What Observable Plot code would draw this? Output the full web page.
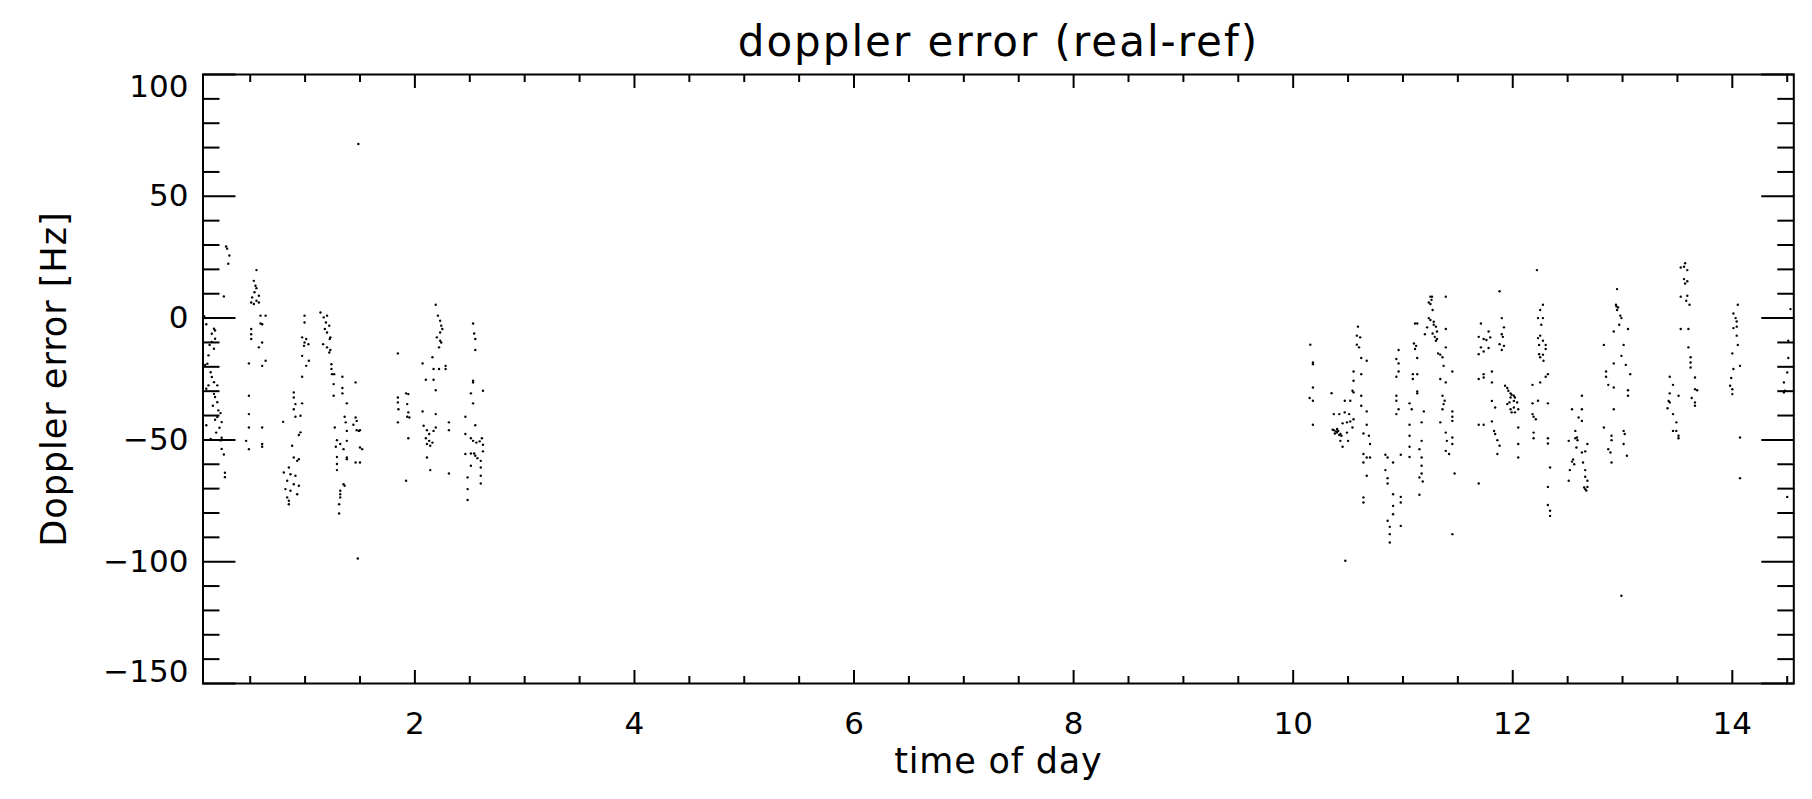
<!DOCTYPE html>
<html><head><meta charset="utf-8">
<script src="https://cdn.jsdelivr.net/npm/d3@7"></script>
<script src="https://cdn.jsdelivr.net/npm/@observablehq/plot@0.6"></script>
<style>html,body{margin:0;padding:0;background:#fff;} svg{display:block}</style>
</head><body><div id="chart"></div>
<script>
// time of day, doppler error [Hz] — one array per satellite pass
const passA = [[0.28,29.4],[0.29,28.5],[0.31,25.7],[0.30,22.3],[0.26,8.9],[0.08,0.8],[0.09,0.0],[0.17,-4.4],[0.18,-5.1],[0.15,-6.4],[0.18,-8.5],[0.15,-9.8],[0.17,-12.6],[0.12,-15.3],[0.11,-18.7],[0.09,-19.2],[0.14,-22.2],[0.15,-24.2],[0.17,-26.3],[0.20,-27.6],[0.12,-27.6],[0.17,-31.1],[0.18,-32.4],[0.20,-34.5],[0.21,-37.9],[0.23,-39.0],[0.20,-40.6],[0.24,-42.7],[0.18,-41.7],[0.14,-49.6],[0.24,-49.1],[0.23,-50.2],[0.24,-53.7],[0.27,-63.5],[0.27,-65.3],[0.10,-2.5],[0.13,-11],[0.10,-29],[0.16,-36],[0.22,-45],[0.19,-47],[0.10,-44],[0.26,-56]];
const passB = [[0.557,19.7],[0.533,15.3],[0.548,13.3],[0.557,12.3],[0.539,10.6],[0.518,8.5],[0.509,6.4],[0.533,5.8],[0.557,7.1],[0.579,9.2],[0.579,6.4],[0.594,1.0],[0.64,1.0],[0.594,-2.2],[0.609,-2.5],[0.509,-4.5],[0.509,-6.6],[0.509,-8.6],[0.609,-10.0],[0.579,-12.0],[0.488,-18.6],[0.609,-19.6],[0.64,-17.5],[0.488,-31.9],[0.488,-39.4],[0.488,-44.9],[0.609,-44.9],[0.463,-50.4],[0.488,-53.8],[0.609,-51.7],[0.609,-52.8]];
const passC = [[0.995,1.0],[0.995,-1.8],[0.973,-7.9],[1.01,-8.6],[0.995,-10.0],[1.03,-10.7],[0.99,-11.4],[0.973,-15.5],[1.034,-17.5],[1.01,-19.6],[0.973,-24.1],[0.897,-30.5],[0.897,-32.6],[0.912,-35.3],[0.973,-35.0],[0.897,-37.4],[0.958,-40.1],[0.912,-40.5],[0.80,-42.6],[0.958,-46.9],[0.943,-48.0],[0.882,-52.4],[0.897,-57.2],[0.928,-58.6],[0.943,-57.9],[0.806,-63.4],[0.852,-61.3],[0.867,-64.1],[0.837,-66.8],[0.912,-64.7],[0.897,-68.2],[0.943,-68.8],[0.821,-70.2],[0.867,-70.9],[0.928,-72.3],[0.837,-73.6],[0.852,-75.0],[0.852,-76.4]];
const passD = [[1.14,2.3],[1.17,0.3],[1.20,1.0],[1.19,-1.8],[1.22,-3.1],[1.18,-4.5],[1.20,-5.9],[1.23,-7.9],[1.225,-8.6],[1.164,-10.7],[1.20,-12.0],[1.23,-13.1],[1.22,-14.1],[1.24,-18.9],[1.24,-20.9],[1.245,-23.0],[1.265,-23.0],[1.34,-24.1],[1.26,-27.1],[1.34,-28.7],[1.34,-30.9],[1.26,-31.9],[1.46,-26.4],[1.38,-35.0],[1.36,-40.5],[1.46,-40.8],[1.47,-42.2],[1.37,-42.8],[1.44,-43.8],[1.50,-46.0],[1.49,-46.3],[1.38,-46.3],[1.47,-46.0],[1.27,-44.9],[1.29,-50.1],[1.28,-52.8],[1.32,-51.7],[1.35,-53.8],[1.38,-50.4],[1.50,-53.1],[1.52,-53.8],[1.38,-57.2],[1.38,-57.9],[1.29,-57.0],[1.29,-59.9],[1.29,-62.4],[1.46,-59.3],[1.50,-59.3],[1.35,-68.2],[1.36,-68.8],[1.32,-70.9],[1.32,-72.3],[1.32,-73.6],[1.31,-76.4],[1.31,-80.2],[1.48,-98.7],[1.485,71.5]];
const passE = [[1.845,-14.5],[1.845,-32.6],[1.845,-34.6],[1.85,-37.4],[1.845,-42.8],[1.92,-30.9],[1.94,-31.2],[1.93,-35.3],[1.94,-38.7],[1.93,-40.5],[1.95,-40.8],[1.94,-49.3],[1.92,-66.8]];
const passF = [[2.19,5.5],[2.21,1.0],[2.23,-1.1],[2.24,-3.1],[2.25,-4.5],[2.23,-5.9],[2.20,-7.9],[2.23,-9.3],[2.22,-12.0],[2.24,-10.0],[2.07,-18.6],[2.16,-16.1],[2.10,-25.3],[2.17,-25.3],[2.17,-20.9],[2.22,-20.9],[2.28,-20.9],[2.28,-19.6],[2.19,-29.6],[2.07,-38.3],[2.19,-39.4],[2.31,-42.8],[2.31,-46.0],[2.08,-44.2],[2.11,-46.0],[2.13,-47.6],[2.17,-46.3],[2.19,-44.9],[2.10,-49.3],[2.13,-50.4],[2.11,-51.7],[2.16,-51.1],[2.14,-52.4],[2.11,-57.2],[2.14,-62.4],[2.31,-63.8]];
const passG = [[2.53,-2.2],[2.54,-6.3],[2.55,-8.6],[2.55,-13.1],[2.53,-25.7],[2.53,-26.4],[2.51,-30.9],[2.62,-29.8],[2.53,-35.0],[2.46,-40.5],[2.55,-44.0],[2.46,-47.6],[2.51,-49.3],[2.53,-50.4],[2.61,-49.3],[2.56,-51.1],[2.59,-50.6],[2.62,-52.0],[2.46,-55.8],[2.51,-55.6],[2.54,-55.6],[2.55,-56.5],[2.57,-57.5],[2.62,-54.7],[2.60,-58.6],[2.60,-61.3],[2.51,-60.6],[2.60,-64.7],[2.60,-67.9],[2.48,-65.4],[2.48,-70.2],[2.48,-74.7]];
const passH = [[10.156,-10.9],[10.18,-18.2],[10.18,-18.9],[10.18,-28.5],[10.15,-32.8],[10.18,-33.9],[10.18,-43.8]];
const passI = [[10.35,-30.8],[10.47,-33.9],[10.52,-33.9],[10.37,-39.4],[10.42,-39.4],[10.47,-38.7],[10.51,-39.4],[10.55,-41.5],[10.52,-42.4],[10.49,-42.8],[10.45,-43.2],[10.54,-44.9],[10.37,-46.0],[10.40,-47.0],[10.43,-47.6],[10.38,-47.4],[10.41,-46.3],[10.44,-48.3],[10.49,-47.0],[10.43,-50.4],[10.45,-52.8],[10.50,-50.4],[10.475,-99.6],[10.39,-46.5],[10.40,-45.5],[10.42,-48.0],[10.36,-45.8]];
const passJ = [[10.59,-3.5],[10.58,-7.2],[10.61,-7.9],[10.58,-10.9],[10.60,-12.0],[10.62,-16.4],[10.67,-17.5],[10.55,-21.9],[10.62,-23.0],[10.55,-25.7],[10.54,-29.8],[10.55,-30.5],[10.62,-31.9],[10.62,-36.0],[10.67,-38.3],[10.67,-43.8],[10.64,-47.4],[10.69,-48.3],[10.70,-51.7],[10.64,-55.8],[10.67,-57.2],[10.70,-57.2],[10.64,-59.3],[10.67,-64.7],[10.64,-73.6],[10.64,-75.7]];
const passK = [[10.84,-56.1],[10.86,-57.2],[10.91,-59.3],[10.98,-56.1],[10.84,-62.4],[10.86,-65.7],[10.86,-67.9],[10.91,-72.3],[10.91,-77.1],[10.91,-80.5],[10.98,-73.4],[10.98,-75.7],[10.86,-83.2],[10.88,-85.7],[10.88,-88.7],[10.88,-92.1],[10.98,-85.3]];
const passL = [[10.96,-13.1],[10.94,-16.8],[10.96,-18.6],[10.96,-21.9],[10.94,-24.1],[10.94,-31.9],[10.94,-33.9],[10.96,-37.4],[10.94,-39.4]];
const passM = [[11.06,-35.0],[11.08,-37.4],[11.13,-30.1],[11.13,-30.9],[11.09,-23.0],[11.13,-23.0],[11.09,-25.0],[11.10,-10.4],[11.11,-12.7],[11.12,-11.4],[11.11,-2.2],[11.13,-2.2],[11.13,-16.4],[11.06,-43.8],[11.06,-48.3],[11.06,-52.8],[11.06,-57.0],[11.17,-42.8],[11.17,-50.4],[11.15,-53.8],[11.17,-57.2],[11.17,-60.6],[11.17,-63.8],[11.15,-65.4],[11.18,-67.1],[11.15,-72.5],[11.19,-38.3],[11.20,-6.6]];
const passN = [[11.25,8.8],[11.265,8.8],[11.235,6.4],[11.25,5.8],[11.27,3.3],[11.235,0.0],[11.25,-0.8],[11.22,-3.8],[11.28,-2.7],[11.30,-3.5],[11.27,-6.3],[11.29,-7.7],[11.31,-8.6],[11.30,-9.3],[11.32,-14.5],[11.34,-15.0],[11.36,-16.1],[11.37,-19.6],[11.39,8.8],[11.39,-4.5],[11.39,-12.0],[11.34,-25.0],[11.39,-26.4],[11.45,-21.9],[11.36,-31.9],[11.38,-33.9],[11.37,-35.3],[11.36,-37.4],[11.45,-38.3],[11.45,-40.5],[11.45,-42.2],[11.34,-42.8],[11.39,-47.0],[11.45,-49.0],[11.40,-50.4],[11.45,-51.7],[11.39,-54.5],[11.42,-55.8],[11.47,-63.8],[11.45,-88.7],[11.26,7.5],[11.28,-1.5],[11.31,-5.5]];
const passO = [[11.71,-2.2],[11.78,-5.5],[11.69,-7.7],[11.735,-8.6],[11.795,-7.9],[11.76,-9.0],[11.71,-12.0],[11.69,-14.8],[11.735,-13.7],[11.78,-12.3],[11.735,-23.0],[11.69,-25.0],[11.81,-21.9],[11.81,-26.4],[11.735,-24.4],[11.90,0.0],[11.92,-3.8],[11.90,-6.6],[11.91,-7.7],[11.88,-10.7],[11.92,-11.4],[11.90,-13.1],[11.88,11.0],[11.81,-34.0],[11.84,-36.7],[11.81,-42.4],[11.69,-43.8],[11.735,-43.8],[11.83,-46.3],[11.84,-47.6],[11.86,-50.1],[11.88,-52.4],[11.86,-55.8],[11.69,-67.9],[11.93,-27.8],[11.95,-28.7],[11.96,-29.8],[11.98,-30.9],[11.99,-31.5],[12.01,-31.9],[12.02,-32.6],[11.98,-32.6],[12.01,-34.0],[12.04,-34.6],[12.05,-37.4],[12.01,-36.7],[11.98,-37.4],[11.99,-38.7],[12.02,-38.7],[11.95,-35.3],[11.97,-34.6],[12.05,-44.9],[12.05,-51.7],[12.05,-57.2]];
const passP = [[12.22,19.7],[12.275,5.5],[12.25,3.3],[12.23,0.0],[12.275,0.0],[12.26,-2.7],[12.25,-7.2],[12.23,-8.2],[12.275,-9.3],[12.24,-11.0],[12.30,-11.0],[12.30,-12.7],[12.24,-14.8],[12.275,-15.0],[12.28,-17.5],[12.25,-16.1],[12.32,-23.0],[12.30,-24.1],[12.25,-26.4],[12.18,-27.4],[12.18,-35.0],[12.23,-33.9],[12.32,-35.0],[12.18,-39.4],[12.19,-40.5],[12.21,-41.5],[12.19,-47.0],[12.19,-49.3],[12.32,-49.3],[12.32,-51.5],[12.34,-61.3],[12.32,-69.3],[12.32,-76.7],[12.34,-79.1],[12.34,-81.2]];
const passQ = [[12.63,-31.9],[12.54,-37.4],[12.63,-37.4],[12.60,-40.8],[12.63,-42.2],[12.57,-46.3],[12.51,-50.4],[12.57,-49.3],[12.59,-50.1],[12.68,-51.7],[12.58,-53.1],[12.63,-55.2],[12.66,-54.7],[12.54,-58.9],[12.56,-60.0],[12.52,-62.4],[12.64,-59.3],[12.66,-62.4],[12.51,-66.8],[12.66,-65.1],[12.68,-66.8],[12.65,-69.5],[12.66,-70.2],[12.68,-69.3],[12.585,-49.0],[12.55,-58.0],[12.67,-70.8]];
const passR = [[12.95,11.9],[12.94,5.5],[12.96,4.4],[12.95,3.3],[12.98,1.0],[12.99,0.0],[12.97,-2.7],[12.92,-5.5],[13.05,-4.5],[12.83,-11.0],[13.01,-11.0],[12.99,-15.5],[12.92,-18.6],[13.03,-19.2],[13.07,-23.0],[12.85,-21.9],[12.85,-24.1],[12.87,-27.4],[12.92,-28.5],[13.05,-29.6],[13.05,-31.9],[12.92,-37.4],[12.83,-44.9],[12.90,-48.3],[12.90,-50.1],[12.87,-53.8],[12.89,-55.2],[12.90,-59.3],[13.01,-46.3],[13.02,-47.6],[13.01,-51.7],[13.04,-56.5],[12.99,-114.0],[12.945,4.8]];
const passS = [[13.57,22.5],[13.56,21.1],[13.59,19.7],[13.53,20.8],[13.56,16.0],[13.59,15.1],[13.57,14.2],[13.53,8.8],[13.59,9.2],[13.58,7.1],[13.61,5.5],[13.53,-4.5],[13.60,-4.5],[13.60,-12.0],[13.62,-16.1],[13.62,-18.2],[13.62,-20.3],[13.66,-24.4],[13.66,-29.2],[13.68,-29.6],[13.63,-32.8],[13.66,-34.6],[13.66,-36.0],[13.43,-24.1],[13.46,-27.4],[13.43,-30.9],[13.42,-34.0],[13.43,-34.6],[13.41,-37.0],[13.46,-39.4],[13.49,-42.8],[13.46,-46.3],[13.49,-46.3],[13.51,-48.3],[13.51,-49.3],[13.51,-31.9]];
const passT = [[14.05,5.5],[14.01,1.9],[14.03,0.0],[14.04,-1.4],[14.01,-4.1],[14.04,-3.5],[14.04,-7.2],[14.05,-11.0],[14.00,-14.5],[14.07,-19.6],[14.01,-20.9],[13.99,-24.6],[13.98,-27.8],[14.00,-29.2],[14.00,-31.2],[14.07,-49.0],[14.07,-65.7]];
const passU = [[14.53,3.7],[14.51,-9.3],[14.51,-16.4],[14.50,-22.3],[14.47,-26.4],[14.48,-29.8],[14.47,-30.5],[14.50,-73.4]];

// axis ticks and labels
const xMajor = [2, 4, 6, 8, 10, 12, 14];
const xMinor = [0.5, 1, 1.5, 2.5, 3, 3.5, 4.5, 5, 5.5, 6.5, 7, 7.5, 8.5, 9, 9.5, 10.5, 11, 11.5, 12.5, 13, 13.5, 14.5];
const yMajorInner = [-100, -50, 0, 50];
const yTopLabel = [100];
const yBottomLabel = [-150];
const yMajor = [-150, -100, -50, 0, 50, 100];
const yMinor = [-140, -130, -120, -110, -90, -80, -70, -60, -40, -30, -20, -10, 10, 20, 30, 40, 60, 70, 80, 90];
const titleText = "doppler error (real-ref)";
const xTitle = "time of day";
const yTitle = "Doppler error [Hz]";

const points = [].concat(passA, passB, passC, passD, passE, passF, passG, passH, passI, passJ,
  passK, passL, passM, passN, passO, passP, passQ, passR, passS, passT, passU)
  .map(([t, e]) => ({t, e}));

const FONT = "DejaVu Sans";
const blank = () => "";
const chart = Plot.plot({
  width: 1812,
  height: 799,
  marginLeft: 202.5,
  marginRight: 18.7,
  marginTop: 74,
  marginBottom: 116,
  style: {fontFamily: FONT, background: "white", color: "black"},
  x: {domain: [0.07, 14.56]},
  y: {domain: [-150, 100]},
  marks: [
    Plot.dot(points, {x: "t", y: "e", r: 1.2, fill: "black", stroke: null}),
    // inward ticks, all four sides
    Plot.axisX(xMajor, {anchor: "bottom", tickSize: -13, strokeWidth: 2, tickFormat: blank, label: null}),
    Plot.axisX(xMinor, {anchor: "bottom", tickSize: -7, strokeWidth: 2, tickFormat: blank, label: null}),
    Plot.axisX(xMajor, {anchor: "top", tickSize: -13, strokeWidth: 2, tickFormat: blank, label: null}),
    Plot.axisX(xMinor, {anchor: "top", tickSize: -7, strokeWidth: 2, tickFormat: blank, label: null}),
    Plot.axisY(yMajor, {anchor: "left", tickSize: -33, strokeWidth: 2, tickFormat: blank, label: null}),
    Plot.axisY(yMinor, {anchor: "left", tickSize: -17, strokeWidth: 2, tickFormat: blank, label: null}),
    Plot.axisY(yMajor, {anchor: "right", tickSize: -33, strokeWidth: 2, tickFormat: blank, label: null}),
    Plot.axisY(yMinor, {anchor: "right", tickSize: -17, strokeWidth: 2, tickFormat: blank, label: null}),
    // tick labels
    Plot.axisX(xMajor, {anchor: "bottom", tickSize: 0, tickPadding: 28, fontSize: 31, label: null}),
    Plot.axisY(yMajorInner, {anchor: "left", tickSize: 0, tickPadding: 14.5, fontSize: 31, label: null}),
    Plot.axisY(yTopLabel, {anchor: "left", tickSize: 0, tickPadding: 14.5, fontSize: 31, dy: 13, label: null}),
    Plot.axisY(yBottomLabel, {anchor: "left", tickSize: 0, tickPadding: 14.5, fontSize: 31, dy: -11, label: null}),
    Plot.frame({stroke: "black", strokeWidth: 2}),
    // titles
    Plot.text([titleText], {text: d => d, frameAnchor: "top", textAnchor: "middle", dy: -19, lineAnchor: "bottom", fontSize: 42}),
    Plot.text([xTitle], {text: d => d, frameAnchor: "bottom", textAnchor: "middle", dy: 89, lineAnchor: "bottom", fontSize: 35}),
    Plot.text([yTitle], {text: d => d, frameAnchor: "left", textAnchor: "middle", dx: -137.5, rotate: -90, lineAnchor: "bottom", fontSize: 35})
  ]
});
// widen the titles slightly, like the wide vector font of the original
d3.select(chart).selectAll("text").each(function () {
  const s = this.textContent;
  if (s === titleText) d3.select(this).attr("letter-spacing", "2px");
  else if (s === xTitle) d3.select(this).attr("letter-spacing", "0.8px");
  else if (s === yTitle) d3.select(this).attr("letter-spacing", "1px");
});
document.getElementById("chart").appendChild(chart);
</script>
</body></html>
